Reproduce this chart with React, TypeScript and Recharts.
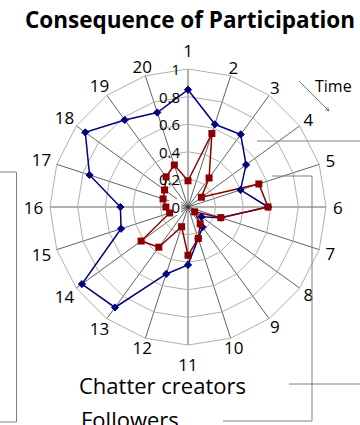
import React from 'react';
import {
	RadarChart,
	Radar,
	PolarGrid,
	PolarAngleAxis,
	PolarRadiusAxis,
} from 'recharts';

// Time periods around the wheel
const periods: string[] = [
	'1', '2', '3', '4', '5', '6', '7', '8', '9', '10',
	'11', '12', '13', '14', '15', '16', '17', '18', '19', '20',
];

// Share of participation per period
const chatterCreators: number[] = [
	0.85, 0.63, 0.65, 0.52, 0.4, 0.58, 0.25, 0.12, 0.18, 0.24,
	0.42, 0.51, 0.9, 0.95, 0.51, 0.49, 0.75, 0.92, 0.78, 0.72,
];
const followers: number[] = [
	0.19, 0.56, 0.26, 0.12, 0.54, 0.58, 0.25, 0.06, 0.15, 0.24,
	0.35, 0.15, 0.36, 0.42, 0.14, 0.16, 0.19, 0.21, 0.27, 0.32,
];

const radiusTicks: number[] = [0, 0.2, 0.4, 0.6, 0.8, 1];

const data = periods.map((period, i) => ({
	period,
	chatter: chatterCreators[i],
	followers: followers[i],
}));

const W = 360;
const H = 425;
const CX = 188;
const CY = 207;
const OUTER = 138;
const FONT = '"Open Sans", "DejaVu Sans", sans-serif';
const BLUE = '#000080';
const RED = '#8b0000';

const AngleTick = (props: any) => {
	const { payload } = props;
	const label = String(payload.value);
	const rad = (payload.coordinate * Math.PI) / 180;
	const cos = Math.cos(rad);
	const sin = Math.sin(rad);
	const vertical = Math.abs(cos) < 0.01;
	const r = 145 + (vertical ? 12 : label.length * 4.8 * Math.abs(cos));
	return (
		<text
			x={CX + r * cos}
			y={CY - r * sin}
			textAnchor='middle'
			dominantBaseline='central'
			fontFamily={FONT}
			fontSize={17}
			fill='#000'>
			{label}
		</text>
	);
};

const RadiusTick = (props: any) => {
	const { x, y, payload } = props;
	const label = String(payload.value);
	return (
		<g>
			{payload.value === 0 && (
				<rect x={x - 19} y={y - 8} width={12} height={16} fill='#fff' />
			)}
			<text
				x={x - 8}
				y={y}
				textAnchor='end'
				dominantBaseline='central'
				fontFamily={FONT}
				fontSize={15}
				fill='#000'>
				{label}
			</text>
		</g>
	);
};

const Diamond = (props: any) => {
	const { cx, cy, key } = props;
	const s = 3.6;
	return (
		<path
			key={key}
			d={`M${cx},${cy - s}L${cx + s},${cy}L${cx},${cy + s}L${cx - s},${cy}Z`}
			fill={BLUE}
			stroke={BLUE}
		/>
	);
};

const Square = (props: any) => {
	const { cx, cy, key } = props;
	return (
		<rect key={key} x={cx - 3.5} y={cy - 3.5} width={7} height={7} fill={RED} />
	);
};

const ConsequenceRadar = () => {
	return (
		<div
			style={{
				position: 'absolute',
				left: 0,
				top: 0,
				width: W,
				height: H,
				overflow: 'hidden',
				background: '#fff',
			}}>
			<RadarChart
				width={W}
				height={H}
				data={data}
				cx={CX}
				cy={CY}
				outerRadius={OUTER}
				margin={{ top: 0, right: 0, bottom: 0, left: 0 }}>
				<PolarGrid gridType='polygon' polarRadius={[]} stroke='#3a3a3a' strokeWidth={0.8} />
				<PolarGrid gridType='polygon' radialLines={false} stroke='#b0b0b0' strokeWidth={1} />
				<PolarAngleAxis
					dataKey='period'
					tick={<AngleTick />}
					tickLine={false}
					axisLine={false}
				/>
				<Radar
					dataKey='chatter'
					name='Chatter creators'
					stroke={BLUE}
					strokeWidth={1.5}
					fill='none'
					fillOpacity={0}
					dot={Diamond}
					isAnimationActive={false}
				/>
				<Radar
					dataKey='followers'
					name='Followers'
					stroke={RED}
					strokeWidth={1.5}
					fill='none'
					fillOpacity={0}
					dot={Square}
					isAnimationActive={false}
				/>
				<PolarRadiusAxis
					angle={90}
					domain={[0, 1]}
					ticks={radiusTicks as any}
					tickCount={radiusTicks.length}
					axisLine={false}
					tick={<RadiusTick />}
				/>
			</RadarChart>
			<svg
				width={W}
				height={H}
				style={{ position: 'absolute', left: 0, top: 0, pointerEvents: 'none' }}>
				<defs>
					<marker id='arrow' markerWidth='6' markerHeight='6' refX='5' refY='3' orient='auto'>
						<path d='M0,0.5 L5,3 L0,5.5' fill='none' stroke='#555' strokeWidth={0.8} />
					</marker>
				</defs>
				<text
					x={25}
					y={28}
					fontFamily={FONT}
					fontWeight='bold'
					fontSize={22.5}
					fill='#000'>
					Consequence of Participation
				</text>
				<text x={315} y={92} fontFamily={FONT} fontSize={16} fill='#000'>
					Time
				</text>
				<line x1={299} y1={81} x2={329} y2={111} stroke='#555' strokeWidth={0.8} markerEnd='url(#arrow)' />
				{/* callout lines */}
				<g fill='none' stroke='#808080' strokeWidth={1}>
					<polyline points='257,141 360,141' />
					<polyline points='289,384 360,384' />
					<polyline points='272,176 312,176 312,421 223,421' />
					<polyline points='0,172 16.5,172 16.5,422 0,422' />
				</g>
				<text x={79} y={394} fontFamily={FONT} fontSize={22} fill='#000'>
					Chatter creators
				</text>
				<text x={81} y={428} fontFamily={FONT} fontSize={22} fill='#000'>
					Followers
				</text>
			</svg>
		</div>
	);
};

export default ConsequenceRadar;
